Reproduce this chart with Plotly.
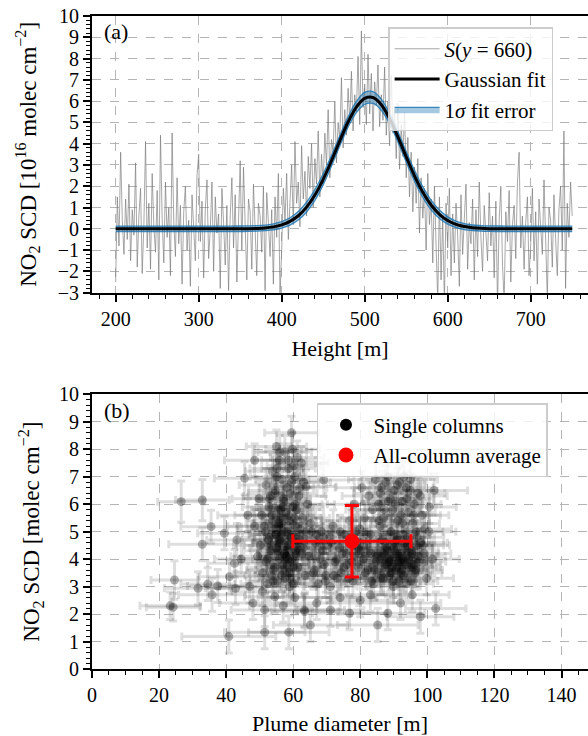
import plotly.graph_objects as go

# ---------------- Panel (a) data ----------------
HEIGHT = list(range(200, 751, 2))
SIGNAL = [
    -2.5, 1.5, -0.8, 3.6, 0.4, -1.2, 1.4, -0.5, 2.1, -1.5, 0.9, -0.3, 3.1, -1.8, 0.6, 1.9, -2.1, 0.2, 4.1, -0.9, 1.2, -1.9, 2.6, 0.1, -1.1,
    1.8, -2.4, 4.4, 0.5, -1.6, 2.2, -0.4, 1.0, -2.2, 4.5, 0.3, -1.3, 2.4, -0.7, 1.1, -2.6, 0.8, 2.0, -1.0, 0.4, -2.7, 1.6, 0.2, -1.5, 2.5,
    3.5, -0.6, 1.3, -2.3, 0.9, 2.3, -1.4, 0.0, 2.2, -2.0, 1.5, -0.2, 0.7, -2.8, 1.9, 0.3, -1.7, 1.1, -2.9, 0.6, 2.4, -0.9, 1.6, -2.5, 0.5,
    3.2, -1.0, 2.9, 0.2, -2.4, 1.4, 0.8, -1.9, 2.1, 0.0, -2.2, 1.2, 0.6, -1.1, 2.0, -2.9, 1.7, 0.3, -1.3, 0.9, -2.6, 1.5, -0.4, 2.6, -3.2,
    -1.0, 1.9, 0.4, 2.6, -0.5, 1.6, 3.0, 0.2, 4.1, 1.2, 2.2, 0.1, 3.9, 1.4, 2.7, 0.6, 3.4, 1.9, 4.0, 1.0, 3.3, 2.1, 4.6, 1.5, 3.5,
    2.1, 4.5, 3.0, 5.6, 2.4, 4.2, 3.6, 6.0, 3.1, 5.0, 4.2, 7.1, 3.8, 5.6, 4.4, 6.6, 5.0, 7.4, 4.6, 6.3, 5.5, 8.1, 4.9, 9.3, 5.7,
    6.8, 4.9, 8.2, 5.4, 7.3, 4.6, 6.9, 5.8, 7.7, 4.8, 6.3, 5.1, 7.6, 4.4, 6.0, 3.9, 7.2, 4.5, 5.6, 3.3, 5.9, 2.8, 4.9, 3.4, 5.5,
    2.4, 4.3, 1.5, 3.6, 0.8, 2.9, 1.2, 3.3, -0.2, 2.4, 0.5, 1.9, -1.0, 2.6, 0.2, 1.4, -1.6, 2.0, -0.8, -3.4, 1.5, -2.4, 0.6, -3.5, 1.2,
    -0.9, 1.9, -2.2, 0.7, -1.6, 1.2, -0.3, -2.7, 1.6, -1.2, 0.5, 2.1, -1.9, 0.3, -0.7, 1.4, -2.4, 0.9, -1.3, 2.2, -0.4, -2.0, 1.1, 0.0, -1.5,
    1.7, -0.8, 0.6, -2.3, 1.3, -3.6, 0.4, 2.0, -1.7, -3.4, 0.8, -0.6, 1.8, -2.5, 0.2, 1.1, -1.4, 2.2, 3.6, -0.9, 0.6, -1.9, 0.3, 1.5, -2.2,
    -0.7, 1.9, -1.5, 0.8, -2.6, 1.4, 0.1, -1.2, 2.3, -0.3, -3.3, 1.0, 0.4, -1.8, 1.6, -0.5, -2.2, 0.9, 2.0, -1.0, 4.6, -2.8, 1.2, -0.4, 2.2, 0.6,
]

FIT_X = list(range(200, 751, 10))
FIT_Y = [
    0, 0, 0, 0, 0, 0, 0, 0, 0, 0, 0, 0, 0,
    0.0004, 0.001, 0.003, 0.008, 0.019, 0.043, 0.092, 0.185, 0.348, 0.614, 1.020, 1.590,
    2.327, 3.200, 4.135, 5.020, 5.723, 6.130, 6.169, 5.832, 5.179, 4.320, 3.385, 2.493,
    1.724, 1.120, 0.684, 0.392, 0.211, 0.107, 0.051, 0.023, 0.0095, 0.004, 0.0015, 0.0005,
    0, 0, 0, 0, 0, 0, 0,
]
FIT_ERR = [
    0.13, 0.13, 0.13, 0.13, 0.13, 0.13, 0.13, 0.13, 0.13, 0.13, 0.13, 0.13, 0.13,
    0.13, 0.13, 0.13, 0.13, 0.13, 0.13,
    0.14, 0.15, 0.17, 0.20, 0.23, 0.25, 0.26, 0.25, 0.24, 0.24, 0.26, 0.28, 0.28, 0.26,
    0.24, 0.24, 0.25, 0.26, 0.25, 0.23, 0.20, 0.17, 0.15, 0.14,
    0.13, 0.13, 0.13, 0.13, 0.13, 0.13,
    0.13, 0.13, 0.13, 0.13, 0.13, 0.13, 0.13,
]

# ---------------- Panel (b) data ----------------
BLOB_X = [
    57.5, 59.8, 61.2, 55.9, 58.6, 62.4, 53.8, 60.5, 56.7, 63.1, 51.9, 58.1, 54.6, 61.7, 49.8, 57.2, 59.9, 52.8, 64.3, 55.5,
    50.6, 58.7, 62.8, 53.9, 56.4, 60.6, 48.5, 51.7, 57.9, 63.9, 54.8, 59.3, 52.6, 61.9, 56.1, 50.2, 58.5, 55.0, 60.8, 53.3,
    57.4, 62.7, 49.4, 55.9, 59.7, 52.0, 58.2, 54.5, 61.3, 56.8, 50.9, 59.0, 53.6, 63.5, 57.6, 55.3, 60.1, 52.4, 58.9, 56.2,
    59.1, 55.2, 60.2, 57.0, 54.2, 61.0, 58.0, 56.5, 53.0, 62.0,
    54.1, 56.9, 59.6, 52.3, 57.8, 60.9, 55.4, 58.3, 53.5, 61.5, 56.0, 59.4, 54.9, 57.3, 62.1, 51.4, 55.7, 58.8, 60.3, 53.7,
    56.6, 59.0, 54.0, 57.5, 61.2, 52.9, 55.8, 58.4, 60.0, 56.3, 57.1, 54.7, 59.5, 55.1, 58.6, 56.0, 60.6, 53.2, 57.9, 55.6,
    84.5, 88.2, 91.6, 95.0, 86.3, 90.1, 93.7, 97.2, 82.6, 88.9, 85.4, 92.5, 96.1, 83.7, 89.6, 94.3, 98.4, 81.2, 87.0, 91.2,
    85.9, 95.6, 99.2, 79.8, 83.1, 89.0, 92.8, 96.9, 86.5, 90.4, 94.0, 98.6, 82.0, 88.1, 91.9, 95.4, 85.0, 89.5, 93.1, 97.5,
    80.9, 87.3, 90.8, 94.6, 84.2, 92.2, 96.3, 88.7, 86.1, 91.5, 95.1, 83.4, 89.9, 93.8, 99.8, 101.5, 100.6, 78.2, 80.5, 87.6,
    93.0, 97.9, 90.0, 92.0, 88.5, 94.8, 86.8, 90.6, 96.0, 91.0,
    86.2, 89.1, 92.4, 95.7, 88.0, 91.3, 94.4, 97.3, 85.3, 90.2, 93.5, 96.8, 87.4, 90.9, 94.1, 86.9, 89.8, 92.9, 96.5, 88.6,
    91.7, 95.2, 84.7, 87.9, 93.4, 98.0, 83.0, 89.3, 92.6, 95.9, 87.1, 90.5, 93.9, 86.0, 91.1, 94.9, 88.4, 92.1, 96.6, 85.6,
    82.3, 79.5, 81.8, 84.0, 99.0, 100.5, 89.4, 91.8, 86.4, 93.3,
    65.2, 68.4, 71.9, 75.3, 78.6, 66.7, 70.3, 73.8, 77.1, 80.2, 64.6, 68.0, 72.5, 76.0, 79.4, 66.0, 69.7, 73.2, 77.8, 81.5,
    67.5, 71.0, 74.6, 69.0, 76.8, 63.0,
    66.3, 69.2, 72.8, 75.9, 79.0, 67.8, 70.9, 74.3, 77.5, 80.6, 65.5, 68.8, 72.1, 75.1, 78.3, 71.4, 74.0, 76.5, 69.6, 66.9,
]
BLOB_Y = [
    7.9, 8.0, 7.7, 7.6, 7.3, 7.5, 7.2, 7.0, 6.9, 6.8, 6.7, 6.6, 6.4, 6.3, 6.2, 6.1, 5.9, 5.9, 6.0, 5.8,
    5.6, 5.6, 5.5, 5.4, 5.3, 5.2, 5.2, 5.0, 5.0, 5.0, 4.9, 4.8, 4.7, 4.7, 4.6, 4.5, 4.5, 4.4, 4.3, 4.3,
    4.2, 4.2, 4.1, 4.0, 4.0, 3.9, 3.8, 3.7, 3.7, 3.6, 3.5, 3.5, 3.4, 3.4, 3.3, 3.2, 3.1, 3.1, 3.0, 5.5,
    6.4, 7.0, 7.4, 5.9, 5.1, 5.8, 4.1, 4.9, 6.2, 6.6,
    3.6, 3.8, 3.9, 4.0, 4.1, 4.2, 4.3, 4.4, 4.5, 4.6, 4.7, 4.8, 4.9, 5.0, 5.1, 5.2, 5.3, 5.4, 5.5, 5.6,
    3.4, 3.3, 3.2, 4.2, 4.4, 4.8, 4.6, 4.0, 3.7, 5.8, 6.2, 6.5, 6.8, 7.3, 7.6, 7.9, 6.0, 6.3, 5.7, 5.2,
    6.9, 7.0, 6.8, 6.9, 6.6, 6.5, 6.6, 6.4, 6.3, 6.2, 6.0, 6.1, 6.0, 5.8, 5.8, 5.7, 5.6, 5.5, 5.5, 5.4,
    5.2, 5.3, 5.1, 5.1, 4.9, 5.0, 4.9, 4.8, 4.7, 4.6, 4.5, 4.5, 4.5, 4.3, 4.2, 4.2, 4.1, 4.0, 3.9, 3.9,
    4.0, 3.8, 3.7, 3.7, 3.6, 3.5, 3.5, 3.4, 3.3, 3.2, 3.2, 3.2, 3.0, 3.1, 3.3, 4.0, 5.9, 6.0, 6.6, 6.8,
    7.0, 6.3, 4.4, 4.0, 3.9, 4.1, 4.2, 3.6, 3.8, 4.8,
    3.4, 3.5, 3.6, 3.7, 3.8, 3.9, 4.0, 4.1, 4.2, 4.3, 4.4, 4.5, 4.6, 4.7, 4.8, 3.3, 3.2, 3.4, 3.6, 4.0,
    4.1, 4.3, 3.9, 4.4, 3.8, 4.6, 4.2, 5.0, 5.3, 5.6, 5.8, 6.0, 6.2, 6.4, 6.7, 6.5, 6.1, 5.6, 5.0, 5.4,
    3.6, 4.4, 4.9, 3.1, 4.2, 5.0, 3.7, 3.9, 4.1, 4.6,
    5.3, 5.0, 5.2, 4.9, 5.0, 4.6, 4.5, 4.4, 4.6, 4.3, 4.1, 4.0, 3.9, 3.8, 3.7, 3.5, 3.4, 3.3, 3.2, 3.5,
    3.1, 3.0, 4.2, 4.8, 5.4, 4.4,
    3.6, 3.8, 4.0, 4.2, 4.4, 4.6, 4.8, 3.5, 3.9, 4.7, 5.0, 4.3, 3.4, 3.7, 4.1, 4.6, 5.0, 3.3, 3.2, 4.9,
]
BLOB_XERR = 8.0
BLOB_YERR = 0.6

OUT_X = [
    26.6, 32.9, 35.5, 32.9, 39.5, 43.2, 24.6, 23.3, 24.2, 35.8, 40.8, 51.5, 58.7, 51.5, 54.5, 50.8, 65.1, 63.4, 71.1, 69.1,
    45.5, 42.5, 41.0, 34.5, 37.5, 31.6, 42.8, 85.2, 88.2, 97.9, 76.8, 63.3, 63.8, 44.5, 46.5, 47.0, 48.0, 57.0, 60.5, 67.0,
    74.0, 80.0, 92.0, 83.0, 95.5, 102.5, 59.5, 48.5, 55.0, 102.0,
]
OUT_Y = [
    6.09, 6.15, 5.18, 4.54, 4.94, 4.70, 3.24, 2.30, 2.25, 2.70, 1.18, 1.34, 1.34, 2.15, 2.63, 2.81, 1.60, 2.09, 2.15, 6.88,
    6.94, 3.85, 3.36, 3.09, 3.02, 2.94, 2.94, 1.60, 2.03, 1.90, 2.03, 2.15, 6.64, 4.00, 5.60, 3.00, 2.40, 2.30, 2.60, 2.40,
    2.60, 2.50, 2.40, 2.70, 2.70, 2.20, 8.60, 7.60, 8.10, 6.50,
]
OUT_XERR = [
    7, 8, 9, 10, 8, 9, 7, 9, 8, 10, 14, 12, 12, 10, 9, 9, 11, 10, 10, 9,
    9, 8, 9, 8, 9, 10, 9, 12, 11, 10, 11, 12, 9, 8, 9, 9, 10, 10, 11, 12,
    11, 10, 12, 10, 11, 9, 8, 9, 9, 10,
]
OUT_YERR = [
    0.75, 0.75, 0.6, 0.6, 0.6, 0.6, 0.7, 0.5, 0.5, 0.6, 0.6, 0.6, 0.6, 0.6, 0.6, 0.5, 0.6, 0.6, 0.6, 0.6,
    0.6, 0.5, 0.6, 0.6, 0.6, 0.6, 0.6, 0.6, 0.6, 0.6, 0.6, 0.6, 0.6, 0.6, 0.6, 0.6, 0.6, 0.6, 0.6, 0.6,
    0.6, 0.6, 0.6, 0.6, 0.6, 0.6, 0.6, 0.6, 0.6, 0.6,
]

AVG_X = [77.5]
AVG_Y = [4.65]
AVG_XERR = [17.6]
AVG_YERR = [1.3]

FONT = "Liberation Serif"
FS = 22      # axis titles
YFS = 23     # y-axis titles
TFS = 20     # tick labels
LFS = 21     # legend

fig = go.Figure()

# ---- panel (a) ----
fig.add_trace(go.Scatter(
    x=HEIGHT, y=SIGNAL, mode="lines", name="<i>S</i>(<i>y</i> = 660)",
    line=dict(color="rgba(120,120,120,0.65)", width=1), xaxis="x", yaxis="y"))

upper = [f + e for f, e in zip(FIT_Y, FIT_ERR)]
lower = [f - e for f, e in zip(FIT_Y, FIT_ERR)]
fig.add_trace(go.Scatter(
    x=FIT_X, y=lower, mode="lines", line=dict(color="rgba(31,119,180,0.85)", width=1.3, shape="spline"),
    showlegend=False, hoverinfo="skip", xaxis="x", yaxis="y"))
fig.add_trace(go.Scatter(
    x=FIT_X, y=upper, mode="lines", fill="tonexty", fillcolor="rgba(31,119,180,0.4)",
    line=dict(color="rgba(31,119,180,0.85)", width=1.3, shape="spline"),
    showlegend=False, hoverinfo="skip", xaxis="x", yaxis="y"))
fig.add_trace(go.Scatter(
    x=FIT_X, y=FIT_Y, mode="lines", name="Gaussian fit",
    line=dict(color="black", width=3, shape="spline"), xaxis="x", yaxis="y"))
# legend proxy for the band
fig.add_trace(go.Scatter(
    x=[None, None], y=[None, None], mode="lines", fill="toself", name="1<i>σ</i> fit error",
    fillcolor="rgba(31,119,180,0.4)", line=dict(color="rgba(31,119,180,0.85)", width=1.3),
    xaxis="x", yaxis="y"))

# ---- panel (b) ----
all_x = BLOB_X + OUT_X
all_y = BLOB_Y + OUT_Y
all_xerr = [BLOB_XERR] * len(BLOB_X) + OUT_XERR
all_yerr = [BLOB_YERR] * len(BLOB_Y) + OUT_YERR
fig.add_trace(go.Scatter(
    x=all_x, y=all_y, mode="markers", showlegend=False,
    marker=dict(color="rgba(0,0,0,0.3)", size=9, line=dict(width=0)),
    error_x=dict(type="data", array=all_xerr, color="rgba(0,0,0,0.13)", thickness=3, width=4),
    error_y=dict(type="data", array=all_yerr, color="rgba(0,0,0,0.13)", thickness=3, width=4),
    xaxis="x2", yaxis="y2"))
fig.add_trace(go.Scatter(
    x=[None], y=[None], mode="markers", name="Single columns", legend="legend2",
    marker=dict(color="black", size=12, symbol="circle"), xaxis="x2", yaxis="y2"))
fig.add_trace(go.Scatter(
    x=AVG_X, y=AVG_Y, mode="markers", name="All-column average", legend="legend2",
    marker=dict(color="red", size=15),
    error_x=dict(type="data", array=AVG_XERR, color="red", thickness=3, width=7),
    error_y=dict(type="data", array=AVG_YERR, color="red", thickness=3, width=7),
    xaxis="x2", yaxis="y2"))

axis_common = dict(
    showline=True, linecolor="black", linewidth=2, ticks="outside", ticklen=7, tickwidth=1.5,
    tickcolor="black", showgrid=True, gridcolor="#b4b4b4", griddash="dash", gridwidth=1,
    zeroline=False, tickfont=dict(family=FONT, size=TFS, color="black"), automargin=False,
)
minor_y = dict(dtick=0.2, tick0=0, ticklen=4, tickwidth=1.2, tickcolor="black", ticks="outside", showgrid=False)

fig.update_layout(
    width=588, height=736,
    margin=dict(l=92, r=0, t=16, b=67),
    paper_bgcolor="white", plot_bgcolor="white",
    font=dict(family=FONT, size=FS, color="black"),
    xaxis=dict(domain=[0, 1], anchor="y", range=[171.5, 769], tickvals=[200, 300, 400, 500, 600, 700],
               mirror=True, minor=dict(dtick=20, tick0=0, ticklen=4, tickwidth=1.2, tickcolor="black", ticks="outside", showgrid=False),
               title=dict(text="Height [m]", font=dict(family=FONT, size=FS), standoff=12), **axis_common),
    yaxis=dict(domain=[0.5763, 1], anchor="x", range=[-3, 10], dtick=1, tick0=0, minor=minor_y,
               title=dict(text="NO<sub>2</sub> SCD [10<sup>16</sup> molec cm<sup>−2</sup>]", font=dict(family=FONT, size=YFS), standoff=15),
               **axis_common),
    xaxis2=dict(domain=[0, 1], anchor="y2", range=[0, 147.9], dtick=20, tick0=0,
                mirror=True, minor=dict(dtick=5, tick0=0, ticklen=4, tickwidth=1.2, tickcolor="black", ticks="outside", showgrid=False),
                title=dict(text="Plume diameter [m]", font=dict(family=FONT, size=FS), standoff=18), **axis_common),
    yaxis2=dict(domain=[0, 0.4207], anchor="x2", range=[0, 10], dtick=1, tick0=0, minor=minor_y,
                title=dict(text="NO<sub>2</sub> SCD [molec cm<sup>−2</sup>]", font=dict(family=FONT, size=YFS), standoff=13),
                **axis_common),
    legend=dict(x=0.597, y=0.983, xanchor="left", yanchor="top", bgcolor="rgba(255,255,255,0.8)",
                bordercolor="#cccccc", borderwidth=1.5, font=dict(family=FONT, size=LFS), itemwidth=45,
                tracegroupgap=0, traceorder="normal"),
    legend2=dict(x=0.4536, y=0.4072, xanchor="left", yanchor="top", bgcolor="rgba(255,255,255,0.8)",
                 bordercolor="#cccccc", borderwidth=1.5, font=dict(family=FONT, size=LFS), itemwidth=45,
                 traceorder="normal"),
    annotations=[
        dict(text="(a)", xref="x domain", yref="y domain", x=0.02, y=0.995, xanchor="left", yanchor="top",
             showarrow=False, font=dict(family=FONT, size=FS)),
        dict(text="(b)", xref="x2 domain", yref="y2 domain", x=0.02, y=0.995, xanchor="left", yanchor="top",
             showarrow=False, font=dict(family=FONT, size=FS)),
    ],
)

fig.write_html("out.html", config={"displayModeBar": False},
               post_script="document.body.style.margin='0';")
